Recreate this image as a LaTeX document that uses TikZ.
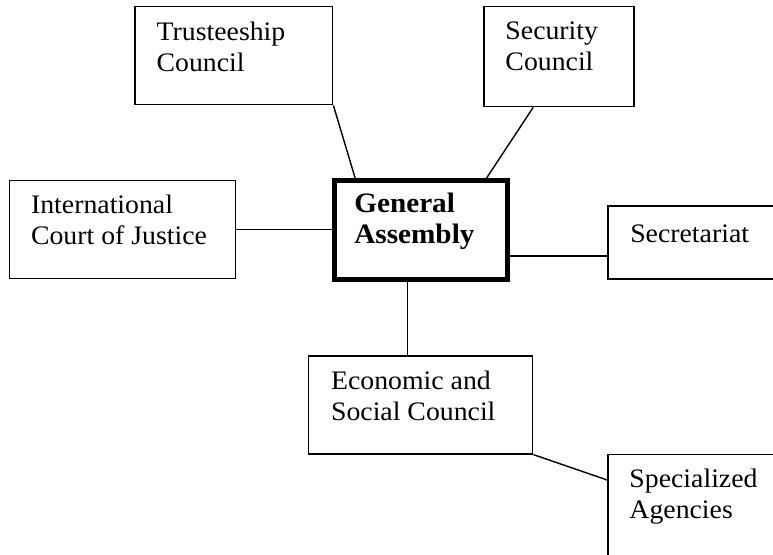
\documentclass[tikz,border=0pt]{standalone}
\usepackage{fontspec}
\setmainfont[FakeStretch=1.04]{Liberation Serif}
\usepackage{tikz}
\usetikzlibrary{positioning, calc}

\begin{document}
\begin{tikzpicture}[
    organ/.style={rectangle, draw=black, line width=1pt, anchor=north west, inner sep=0pt},
    chief/.style={organ, line width=3.2pt},
    caption/.style={anchor=base west, align=left, inner sep=0pt, font=\fontsize{19}{22}\selectfont},
    link/.style={line width=1pt}
]

    % Page frame
    \clip (0, 0) rectangle (19.325, -13.85);

    % Central organ
    \node[chief, minimum width=4.33cm, minimum height=2.48cm] (ga) at (8.3, -4.45) {};
    \node[caption, font=\fontsize{20}{22}\selectfont\bfseries] (ga-txt) at ([shift={(0.55,-1.63)}]ga.north west) {General\\Assembly};

    % Other organs (captions sit on the baseline of their last line)
    \node[organ, minimum width=4.94cm, minimum height=2.45cm] (tc) at (3.36, -0.15) {};
    \node[caption] (tc-txt) at ([shift={(0.55,-1.64)}]tc.north west) {Trusteeship\\Council};

    \node[organ, minimum width=3.75cm, minimum height=2.5cm] (sc) at (12.08, -0.15) {};
    \node[caption] (sc-txt) at ([shift={(0.55,-1.6)}]sc.north west) {Security\\Council};

    \node[organ, minimum width=5.65cm, minimum height=2.45cm] (icj) at (0.22, -4.5) {};
    \node[caption] (icj-txt) at ([shift={(0.55,-1.6)}]icj.north west) {International\\Court of Justice};

    \node[organ, minimum width=5cm, minimum height=1.83cm] (sec) at (15.18, -5.13) {};
    \node[caption] (sec-txt) at ([shift={(0.57,-0.93)}]sec.north west) {Secretariat};

    \node[organ, minimum width=5.6cm, minimum height=2.45cm] (eco) at (7.7, -8.88) {};
    \node[caption] (eco-txt) at ([shift={(0.57,-1.62)}]eco.north west) {Economic and\\Social Council};

    \node[organ, minimum width=5cm, minimum height=2.7cm] (sa) at (15.18, -11.35) {};
    \node[caption] (sa-txt) at ([shift={(0.55,-1.6)}]sa.north west) {Specialized\\Agencies};

    % Links
    \draw[link] (tc.south east) -- ($(ga.north west)!0.13!(ga.north east)$);
    \draw[link] ($(sc.south west)!0.33!(sc.south east)$) -- ($(ga.north west)!0.87!(ga.north east)$);
    \draw[link] (icj.east) -- (icj.east -| ga.west);
    \draw[link] ([yshift=-0.65cm]ga.east) -- ([yshift=-0.65cm]ga.east -| sec.west);
    \draw[link] ([xshift=-0.33cm]ga.south) -- ([xshift=-0.33cm]ga.south |- eco.north);
    \draw[link] (eco.south east) -- ([yshift=-0.65cm]sa.north west);

\end{tikzpicture}
\end{document}
